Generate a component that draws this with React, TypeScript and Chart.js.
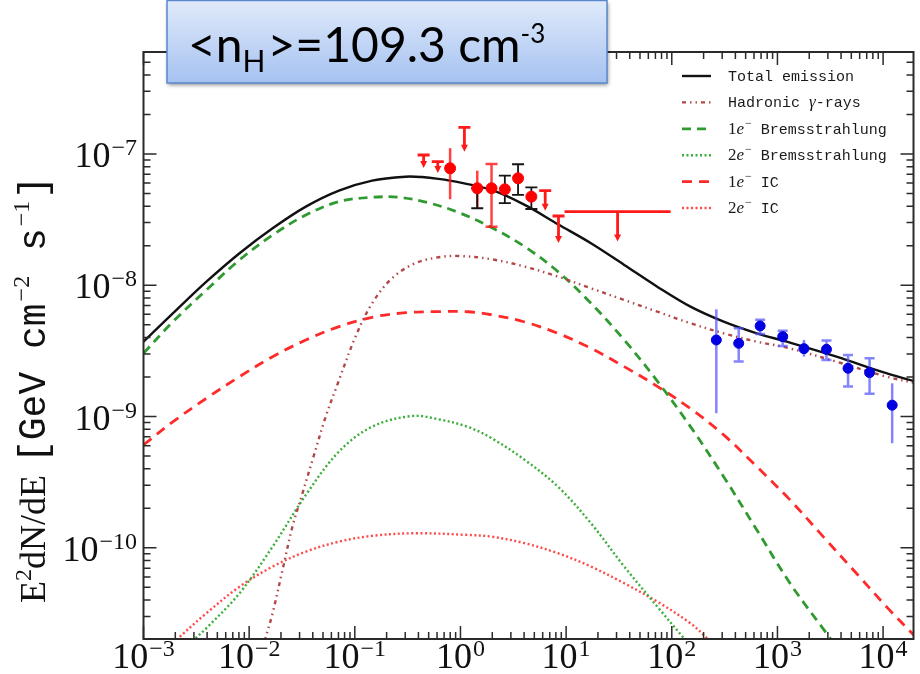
import React, { useEffect, useRef } from 'react';
import { Chart, registerables } from 'chart.js';

Chart.register(...registerables);

// ---------- axis ranges & tick labels ----------
const X_MIN = 1e-3;
const X_MAX = 1.94e4;
const Y_MIN = 2.02e-11;
const Y_MAX = 5.98e-7;
const xTickExps = [-3, -2, -1, 0, 1, 2, 3, 4];
const yTickExps = [-10, -9, -8, -7];

// ---------- model curves (E in GeV, E^2 dN/dE) ----------
const totalE = [1e-3, 1.905e-3, 3.94e-3, 8.11e-3, 1.667e-2, 3.44e-2, 7.08e-2, 0.146, 0.301, 0.432, 0.619, 0.955, 1.968, 4.055, 8.356, 17.18, 35.48, 72.9, 150.3, 309.7, 638.3, 1225, 3622, 10720, 20420];
const totalF = [3.715e-9, 6.124e-9, 1.064e-8, 1.754e-8, 2.716e-8, 3.972e-8, 5.26e-8, 6.266e-8, 6.714e-8, 6.668e-8, 6.457e-8, 6.095e-8, 5.321e-8, 4.093e-8, 2.917e-8, 2.089e-8, 1.429e-8, 9.75e-9, 6.871e-9, 5.284e-9, 4.305e-9, 3.715e-9, 2.858e-9, 2.138e-9, 1.845e-9];

const hadE = [1.259e-2, 1.422e-2, 1.667e-2, 2.07e-2, 2.57e-2, 3.199e-2, 3.981e-2, 5.309e-2, 6.823e-2, 0.1016, 0.146, 0.2249, 0.3733, 0.619, 0.955, 1.968, 4.055, 8.356, 17.18, 35.48, 72.9, 150.3, 309.7, 638.3, 1225, 3622, 10720, 20420];
const hadF = [1.413e-11, 2.023e-11, 3.177e-11, 6.792e-11, 1.452e-10, 2.606e-10, 4.677e-10, 1.0e-9, 1.742e-9, 4.064e-9, 7.295e-9, 1.13e-8, 1.472e-8, 1.633e-8, 1.671e-8, 1.578e-8, 1.387e-8, 1.164e-8, 9.484e-9, 7.727e-9, 6.295e-9, 5.14e-9, 4.305e-9, 3.715e-9, 3.35e-9, 2.618e-9, 2.014e-9, 1.795e-9];

const brems1E = [1e-3, 1.905e-3, 3.94e-3, 8.11e-3, 1.667e-2, 3.44e-2, 7.08e-2, 0.146, 0.26, 0.499, 0.955, 1.968, 4.055, 8.356, 17.18, 35.48, 72.9, 150.3, 309.7, 638.3, 1315, 2911, 3981];
const brems1F = [3.034e-9, 5.284e-9, 9.204e-9, 1.56e-8, 2.415e-8, 3.428e-8, 4.335e-8, 4.677e-8, 4.677e-8, 4.246e-8, 3.589e-8, 2.754e-8, 1.968e-8, 1.271e-8, 7.295e-9, 3.828e-9, 1.862e-9, 8.375e-10, 3.483e-10, 1.368e-10, 5.37e-11, 2.234e-11, 1.585e-11];

const brems2E = [2.512e-3, 3.055e-3, 3.94e-3, 8.11e-3, 1.667e-2, 3.44e-2, 7.08e-2, 0.146, 0.3475, 0.619, 1.186, 1.968, 4.055, 8.356, 17.18, 35.48, 72.9, 130.3, 158.5];
const brems2F = [1.738e-11, 2.023e-11, 2.443e-11, 4.508e-11, 1.021e-10, 2.529e-10, 5.408e-10, 8.375e-10, 1.009e-9, 9.528e-10, 8.32e-10, 6.84e-10, 4.677e-10, 2.924e-10, 1.538e-10, 7.194e-11, 3.565e-11, 2.046e-11, 1.7e-11];

const ic1E = [1e-3, 1.905e-3, 3.94e-3, 8.11e-3, 1.667e-2, 3.44e-2, 7.08e-2, 0.146, 0.301, 0.619, 1.186, 1.968, 4.055, 8.356, 17.18, 35.48, 72.9, 150.3, 309.7, 638.3, 1315, 2710, 5585, 11480, 20420];
const ic1F = [6.081e-10, 9.141e-10, 1.377e-9, 2.014e-9, 2.858e-9, 3.828e-9, 4.842e-9, 5.702e-9, 6.18e-9, 6.295e-9, 6.28e-9, 5.96e-9, 5.25e-9, 4.305e-9, 3.311e-9, 2.399e-9, 1.698e-9, 1.148e-9, 7.244e-10, 4.15e-10, 2.317e-10, 1.216e-10, 6.397e-11, 3.365e-11, 2.089e-11];

const ic2E = [1.778e-3, 2.128e-3, 3.94e-3, 8.11e-3, 1.667e-2, 3.44e-2, 7.08e-2, 0.146, 0.3733, 1.186, 1.968, 4.055, 8.356, 17.18, 35.48, 72.9, 150.3, 215.8, 263];
const ic2F = [1.778e-11, 2.046e-11, 3.177e-11, 5.058e-11, 7.194e-11, 9.354e-11, 1.114e-10, 1.233e-10, 1.291e-10, 1.253e-10, 1.216e-10, 1.084e-10, 9.099e-11, 7.194e-11, 5.37e-11, 3.89e-11, 2.661e-11, 2.046e-11, 1.738e-11];

// ---------- Fermi (red) points ----------
const fermiE = [0.798, 1.442, 1.968, 2.63, 3.508, 4.688];
const fermiF = [7.78e-8, 5.48e-8, 5.48e-8, 5.38e-8, 6.53e-8, 4.73e-8];
const fermiErrLo = [4.52e-8, 3.86e-8, 2.79e-8, null, null, null];
const fermiErrHi = [1.107e-7, 7.46e-8, 8.39e-8, null, null, null];
const fermiErrCap = [false, false, true, false, false, false];
const fermiSysLo = [null, 3.86e-8, null, 4.22e-8, 4.88e-8, 3.81e-8];
const fermiSysHi = [null, 5.48e-8, null, 6.84e-8, 8.35e-8, 5.57e-8];

// ---------- Fermi upper limits ----------
const ulE = [0.448, 0.61, 1.09, 6.34, 8.47, 30.7];
const ulF = [9.82e-8, 8.73e-8, 1.596e-7, 5.25e-8, 3.37e-8, 3.64e-8];
const ulTip = [7.82e-8, 7.16e-8, 1.04e-7, 3.7e-8, 2.1e-8, 2.15e-8];
const ulELo = [null, null, null, null, null, 9.66];
const ulEHi = [null, null, null, null, null, 97.5];

// ---------- HESS (blue) points ----------
const hessE = [264, 430, 686, 1122, 1782, 2912, 4660, 7450, 12190];
const hessF = [3.83e-9, 3.61e-9, 4.9e-9, 4.06e-9, 3.29e-9, 3.25e-9, 2.33e-9, 2.16e-9, 1.22e-9];
const hessLo = [1.06e-9, 2.62e-9, 4.26e-9, 3.45e-9, 2.86e-9, 2.7e-9, 1.69e-9, 1.49e-9, 6.26e-10];
const hessHi = [6.56e-9, 4.7e-9, 5.45e-9, 4.51e-9, 3.83e-9, 3.79e-9, 2.94e-9, 2.78e-9, 1.79e-9];
const hessCap = [false, true, true, true, false, true, true, true, false];

const SERIF = '"Liberation Serif", "Times New Roman", serif';
const MONO = '"Liberation Mono", "DejaVu Sans Mono", monospace';
const SANS = 'Lato, "Open Sans", sans-serif';

const CURVES = [
  { label: 'Total emission', E: totalE, F: totalF, color: '#111111', dash: [] as number[], width: 2.4 },
  { label: 'Hadronic γ-rays', E: hadE, F: hadF, color: '#b04848', dash: [4, 4, 1.5, 4, 1.5, 4], width: 2.4 },
  { label: '1e⁻ Bremsstrahlung', E: brems1E, F: brems1F, color: '#2f9a2f', dash: [9, 6], width: 2.8 },
  { label: '2e⁻ Bremsstrahlung', E: brems2E, F: brems2F, color: '#3aae3a', dash: [2, 2.5], width: 2.4 },
  { label: '1e⁻ IC', E: ic1E, F: ic1F, color: '#ff2a2a', dash: [10, 7], width: 2.8 },
  { label: '2e⁻ IC', E: ic2E, F: ic2F, color: '#ff4a4a', dash: [2, 2.5], width: 2.4 },
];

type Seg = { t: string; font: string; dy?: number; gap?: number };

function segWidth(ctx: CanvasRenderingContext2D, segs: Seg[]) {
  let w = 0;
  for (const s of segs) {
    ctx.font = s.font;
    w += ctx.measureText(s.t).width + (s.gap || 0);
  }
  return w;
}
function drawSegs(ctx: CanvasRenderingContext2D, x: number, y: number, segs: Seg[]) {
  let cx = x;
  for (const s of segs) {
    ctx.font = s.font;
    ctx.fillText(s.t, cx, y + (s.dy || 0));
    cx += ctx.measureText(s.t).width + (s.gap || 0);
  }
  return cx;
}
function powSegs(exp: number, base: number, sup: number): Seg[] {
  return [
    { t: '10', font: `${base}px ${SERIF}`, gap: 1 },
    { t: String(exp).replace('-', '\u2212'), font: `${sup}px ${SERIF}`, dy: -12 },
  ];
}
function legendSegs(label: string): Seg[] {
  const mono = `15px ${MONO}`;
  const m = label.match(/^(\d)e⁻(.*)$/);
  if (m) {
    return [
      { t: m[1], font: `17px ${SERIF}` },
      { t: 'e', font: `italic 17px ${SERIF}`, gap: 1 },
      { t: '\u2212', font: `12px ${SERIF}`, dy: -7 },
      { t: m[2], font: mono },
    ];
  }
  if (label.includes('γ')) {
    const [a, b] = label.split('γ');
    return [
      { t: a, font: mono },
      { t: 'γ', font: `italic 17px ${SERIF}` },
      { t: b, font: mono },
    ];
  }
  return [{ t: label, font: mono }];
}

function vbar(ctx: CanvasRenderingContext2D, x: number, y1: number, y2: number, cap: number) {
  ctx.beginPath();
  ctx.moveTo(x, y1);
  ctx.lineTo(x, y2);
  if (cap > 0) {
    ctx.moveTo(x - cap, y1);
    ctx.lineTo(x + cap, y1);
    ctx.moveTo(x - cap, y2);
    ctx.lineTo(x + cap, y2);
  }
  ctx.stroke();
}

const decorPlugin = {
  id: 'decor',
  beforeDatasetDraw(chart: any, args: any) {
    const ds = chart.data.datasets[args.index];
    const ctx: CanvasRenderingContext2D = chart.ctx;
    const xs = chart.scales.x;
    const ys = chart.scales.y;
    ctx.save();
    if (ds.label === 'Fermi') {
      ctx.strokeStyle = 'rgba(255,20,20,0.8)';
      ctx.lineWidth = 2.5;
      fermiE.forEach((e, i) => {
        const lo = fermiErrLo[i];
        const hi = fermiErrHi[i];
        if (lo == null || hi == null) return;
        vbar(ctx, xs.getPixelForValue(e), ys.getPixelForValue(hi), ys.getPixelForValue(lo), fermiErrCap[i] ? 6 : 0);
      });
      ctx.strokeStyle = '#151515';
      ctx.lineWidth = 1.8;
      fermiE.forEach((e, i) => {
        const lo = fermiSysLo[i];
        const hi = fermiSysHi[i];
        if (lo == null || hi == null) return;
        vbar(ctx, xs.getPixelForValue(e), ys.getPixelForValue(hi), ys.getPixelForValue(lo), 6);
      });
      ctx.strokeStyle = '#ff1a1a';
      ctx.fillStyle = '#ff1a1a';
      ulE.forEach((e, i) => {
        const x = xs.getPixelForValue(e);
        const y0 = ys.getPixelForValue(ulF[i]);
        const y1 = ys.getPixelForValue(ulTip[i]);
        ctx.lineWidth = 2.8;
        ctx.beginPath();
        const lo = ulELo[i];
        const hi = ulEHi[i];
        if (lo != null && hi != null) {
          ctx.moveTo(xs.getPixelForValue(lo), y0);
          ctx.lineTo(xs.getPixelForValue(hi), y0);
        } else {
          ctx.moveTo(x - 6, y0);
          ctx.lineTo(x + 6, y0);
        }
        ctx.moveTo(x, y0);
        ctx.lineTo(x, y1 - 6);
        ctx.stroke();
        ctx.beginPath();
        ctx.moveTo(x - 3.5, y1 - 7);
        ctx.lineTo(x + 3.5, y1 - 7);
        ctx.lineTo(x, y1);
        ctx.closePath();
        ctx.fill();
      });
    }
    if (ds.label === 'HESS') {
      ctx.strokeStyle = 'rgba(80,80,255,0.7)';
      ctx.lineWidth = 2.5;
      hessE.forEach((e, i) => {
        vbar(ctx, xs.getPixelForValue(e), ys.getPixelForValue(hessHi[i]), ys.getPixelForValue(hessLo[i]), hessCap[i] ? 5 : 0);
      });
    }
    ctx.restore();
  },
  afterDraw(chart: any) {
    const ctx: CanvasRenderingContext2D = chart.ctx;
    const { left, right, top, bottom } = chart.chartArea;
    const xs = chart.scales.x;
    const ys = chart.scales.y;
    ctx.save();
    ctx.strokeStyle = '#2a2a2a';
    ctx.lineWidth = 1.5;
    ctx.beginPath();
    for (let d = -4; d <= 5; d++) {
      for (let m = 1; m <= 9; m++) {
        const v = m * Math.pow(10, d);
        if (v < X_MIN * 0.999 || v > X_MAX) continue;
        const px = xs.getPixelForValue(v);
        const len = m === 1 ? 13 : 7;
        ctx.moveTo(px, bottom);
        ctx.lineTo(px, bottom - len);
        ctx.moveTo(px, top);
        ctx.lineTo(px, top + len);
      }
    }
    for (let d = -12; d <= -6; d++) {
      for (let m = 1; m <= 9; m++) {
        const v = m * Math.pow(10, d);
        if (v < Y_MIN || v > Y_MAX) continue;
        const py = ys.getPixelForValue(v);
        const len = m === 1 ? 13 : 7;
        ctx.moveTo(left, py);
        ctx.lineTo(left + len, py);
        ctx.moveTo(right, py);
        ctx.lineTo(right - len, py);
      }
    }
    ctx.stroke();
    ctx.lineWidth = 2;
    ctx.strokeRect(left, top, right - left, bottom - top);

    ctx.fillStyle = '#111';
    ctx.textBaseline = 'alphabetic';
    ctx.textAlign = 'left';
    xTickExps.forEach((ex) => {
      const px = xs.getPixelForValue(Math.pow(10, ex));
      const segs = powSegs(ex, 36, 24);
      const w = segWidth(ctx, segs);
      drawSegs(ctx, px - w / 2, 668, segs);
    });
    yTickExps.forEach((ex) => {
      const py = ys.getPixelForValue(Math.pow(10, ex));
      const segs = powSegs(ex, 36, 24);
      const w = segWidth(ctx, segs);
      drawSegs(ctx, 137 - w, py + 13, segs);
    });

    ctx.save();
    ctx.translate(45, 603);
    ctx.rotate(-Math.PI / 2);
    const titleSegs: Seg[] = [
      { t: 'E', font: `36px ${SERIF}` },
      { t: '2', font: `24px ${SERIF}`, dy: -14 },
      { t: 'dN/dE', font: `36px ${SERIF}`, gap: 12 },
      { t: '[GeV cm', font: `38px ${MONO}`, gap: 2 },
      { t: '\u22122', font: `24px ${SERIF}`, dy: -16, gap: 2 },
      { t: ' s', font: `38px ${MONO}`, gap: 2 },
      { t: '\u22121', font: `24px ${SERIF}`, dy: -16, gap: 2 },
      { t: ']', font: `38px ${MONO}` },
    ];
    drawSegs(ctx, 0, 0, titleSegs);
    ctx.restore();

    CURVES.forEach((c, i) => {
      const y = 76 + i * 26.4;
      ctx.save();
      ctx.strokeStyle = c.color;
      ctx.lineWidth = c.width;
      ctx.setLineDash(c.dash);
      ctx.beginPath();
      ctx.moveTo(682, y);
      ctx.lineTo(711, y);
      ctx.stroke();
      ctx.restore();
      ctx.fillStyle = '#1a1a1a';
      drawSegs(ctx, 728, y + 5, legendSegs(c.label));
    });

    const bx = 167, by = 0.5, bw = 440, bh = 82.5;
    ctx.save();
    ctx.shadowColor = 'rgba(0,0,0,0.45)';
    ctx.shadowBlur = 4;
    ctx.shadowOffsetX = 1;
    ctx.shadowOffsetY = 2;
    const g = ctx.createLinearGradient(0, by, 0, by + bh);
    g.addColorStop(0, '#e0eafb');
    g.addColorStop(1, '#a5c2f0');
    ctx.fillStyle = g;
    ctx.fillRect(bx, by, bw, bh);
    ctx.restore();
    ctx.strokeStyle = '#5a88cf';
    ctx.lineWidth = 1.5;
    ctx.strokeRect(bx, by, bw, bh);
    ctx.fillStyle = '#000';
    const boxSegs: Seg[] = [
      { t: '<n', font: `48px ${SANS}` },
      { t: 'H', font: `30px ${SANS}`, dy: 10, gap: 2 },
      { t: '>=109.3 cm', font: `48px ${SANS}` },
      { t: '-3', font: `26px ${SANS}`, dy: -19 },
    ];
    drawSegs(ctx, 188, 62, boxSegs);
    ctx.restore();
  },
};

export default function App() {
  const ref = useRef<HTMLCanvasElement | null>(null);
  useEffect(() => {
    if (!ref.current) return;
    const curveSets = CURVES.map((c) => ({
      label: c.label,
      data: c.E.map((e, i) => ({ x: e, y: c.F[i] })),
      showLine: true,
      borderColor: c.color,
      backgroundColor: c.color,
      borderWidth: c.width,
      borderDash: c.dash,
      pointRadius: 0,
      tension: 0.35,
      fill: false,
      clip: 0,
      order: 1,
    }));
    const chart = new Chart(ref.current, {
      type: 'scatter',
      data: {
        datasets: [
          ...curveSets,
          {
            label: 'Fermi',
            data: fermiE.map((e, i) => ({ x: e, y: fermiF[i] })),
            pointRadius: 5.5,
            pointBackgroundColor: '#ff0000',
            pointBorderColor: '#ff0000',
            showLine: false,
            order: 0,
          },
          {
            label: 'HESS',
            data: hessE.map((e, i) => ({ x: e, y: hessF[i] })),
            pointRadius: 5,
            pointBackgroundColor: '#0000e0',
            pointBorderColor: '#0000e0',
            showLine: false,
            order: 0,
          },
        ] as any,
      },
      options: {
        animation: false,
        responsive: false,
        devicePixelRatio: 1,
        events: [],
        layout: { padding: { left: 0, right: 3, top: 52, bottom: 0 } },
        plugins: { legend: { display: false }, tooltip: { enabled: false }, title: { display: false } },
        scales: {
          x: {
            type: 'logarithmic',
            min: X_MIN,
            max: X_MAX,
            grid: { display: false },
            border: { display: false },
            ticks: { display: false },
            afterFit: (s: any) => { s.height = 35; },
          },
          y: {
            type: 'logarithmic',
            min: Y_MIN,
            max: Y_MAX,
            grid: { display: false },
            border: { display: false },
            ticks: { display: false },
            afterFit: (s: any) => { s.width = 143.5; },
          },
        },
      } as any,
      plugins: [decorPlugin],
    });
    return () => chart.destroy();
  }, []);
  return (
    <div style={{ position: 'fixed', left: 0, top: 0, width: 920, height: 674, background: '#fff' }}>
      <canvas ref={ref} width={920} height={674} style={{ display: 'block' }} />
    </div>
  );
}
